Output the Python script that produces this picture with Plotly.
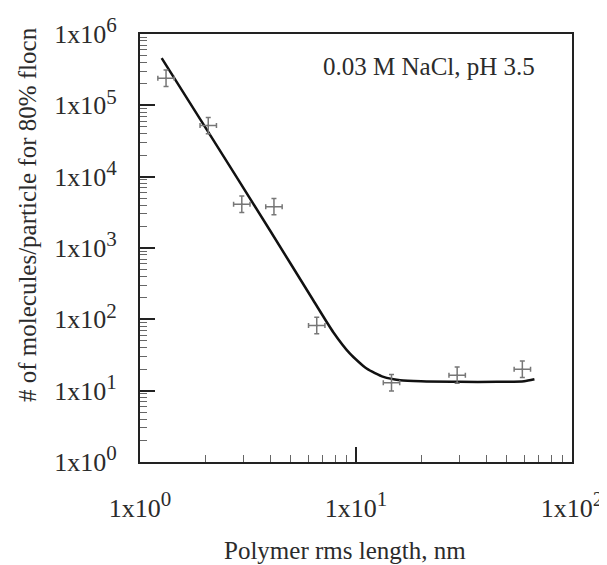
import plotly.graph_objects as go

# Data
length_nm = [1.32, 2.07, 2.96, 4.17, 6.58, 14.6, 29.4, 58.9]
molecules = [2.4e5, 5.2e4, 4.1e3, 3.8e3, 82, 12.9, 16.5, 20]

fit_x = [1.26, 2.0, 4.0, 6.34, 7.85, 9.38, 11.2, 13.4, 16.0, 20, 30, 45, 60, 67]
fit_y = [4.6e5, 5.0e4, 1760, 185, 66, 33, 20.4, 15.6, 14.0, 13.5, 13.3, 13.3, 13.6, 14.5]

x_tickvals = [1, 10, 100]
x_ticktext = ["0", "1", "2"]
y_tickvals = [1, 10, 100, 1e3, 1e4, 1e5, 1e6]
y_ticktext = ["0", "1", "2", "3", "4", "5", "6"]

x_minor = [m * d for d in (1, 10) for m in range(2, 10)]
y_minor = [m * 10 ** k for k in range(0, 6) for m in range(2, 10)]

FONT = "Liberation Serif, Times New Roman, serif"
TXT = "#2b2b2b"

def lab(e):
    return '1x10<sup><span style="font-size:21px">%s</span></sup>' % e

# arm half-lengths in decades (marker style)
dx, dy = 0.038, 0.115

fig = go.Figure()
fig.add_trace(go.Scatter(
    x=fit_x, y=fit_y, mode="lines",
    line=dict(color="#111111", width=2.5, shape="spline", smoothing=0.6),
    showlegend=False, hoverinfo="skip"))
fig.add_trace(go.Scatter(
    x=length_nm, y=molecules, mode="markers",
    marker=dict(size=2, color="#777777"),
    error_x=dict(type="data", symmetric=False,
                 array=[v * (10 ** dx - 1) for v in length_nm],
                 arrayminus=[v * (1 - 10 ** -dx) for v in length_nm],
                 color="#777777", thickness=1.5, width=2.5),
    error_y=dict(type="data", symmetric=False,
                 array=[v * (10 ** dy - 1) for v in molecules],
                 arrayminus=[v * (1 - 10 ** -dy) for v in molecules],
                 color="#777777", thickness=1.5, width=2.5),
    showlegend=False))

axis_common = dict(
    type="log", showgrid=False, zeroline=False, automargin=False,
    showline=True, linecolor="#222222", linewidth=2, mirror=True,
    ticks="inside", tickcolor="#222222", tickwidth=1.5, ticklen=15,
    tickfont=dict(family=FONT, size=26, color=TXT),
    tickmode="array",
)

fig.update_xaxes(**axis_common, range=[0, 2],
                 tickvals=x_tickvals, ticktext=[lab(e) for e in x_ticktext],
                 ticklabelstandoff=22,
                 minor=dict(tickmode="array", tickvals=x_minor, ticks="inside",
                            ticklen=7, tickwidth=1, tickcolor="#666666"))
fig.update_yaxes(**axis_common, range=[0, 6],
                 tickvals=y_tickvals, ticktext=[lab(e) for e in y_ticktext],
                 ticklabelstandoff=16,
                 minor=dict(tickmode="array", tickvals=y_minor, ticks="inside",
                            ticklen=7, tickwidth=1, tickcolor="#666666"))

fig.add_annotation(text="0.03 M NaCl, pH 3.5", xref="paper", yref="paper",
                   x=0.919, y=0.923, xanchor="right", yanchor="middle", showarrow=False,
                   font=dict(family=FONT, size=25, color=TXT))
fig.add_annotation(text="Polymer rms length, nm", xref="paper", yref="paper",
                   x=0.475, y=-0.206, xanchor="center", yanchor="middle", showarrow=False,
                   font=dict(family=FONT, size=25, color=TXT))
fig.add_annotation(text="# of molecules/particle for 80% flocn", xref="paper", yref="paper",
                   x=-0.262, y=0.579, xanchor="center", yanchor="middle", showarrow=False,
                   textangle=-90, font=dict(family=FONT, size=25, color=TXT))

# page body has an 8px offset; size the figure so the plot box lands on the reference
fig.update_layout(
    width=599, height=557,
    margin=dict(l=132, r=35, t=26, b=103),
    paper_bgcolor="white", plot_bgcolor="white",
)

fig.write_html("out.html")
